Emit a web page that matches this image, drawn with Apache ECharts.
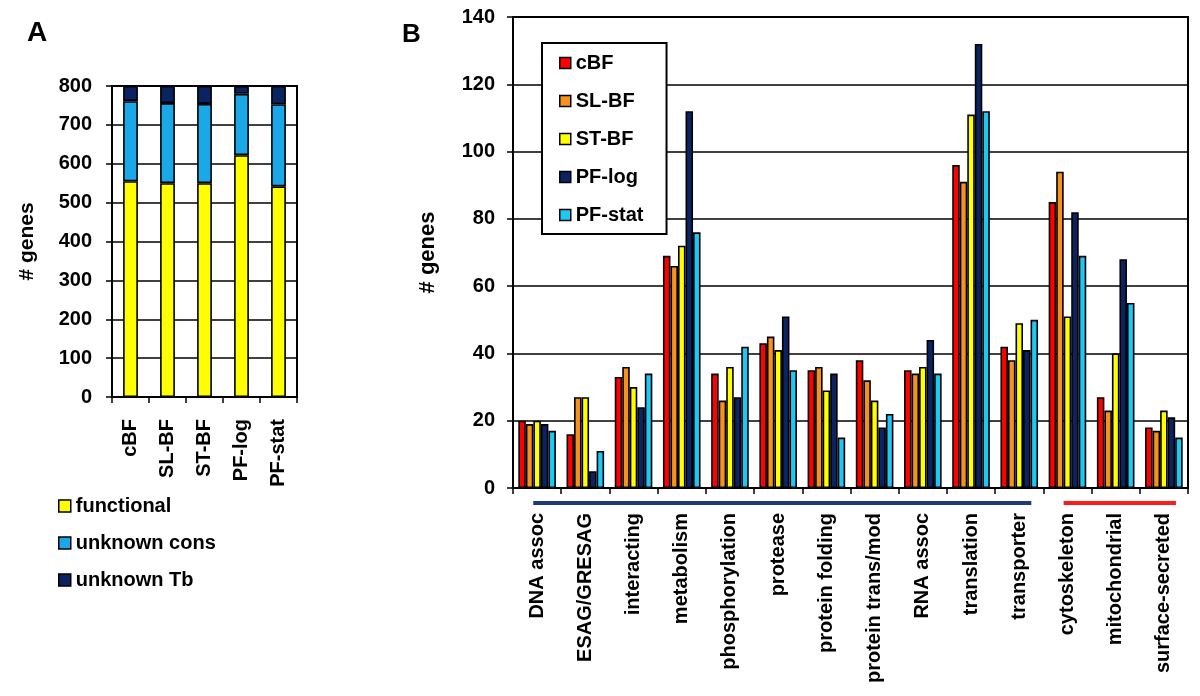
<!DOCTYPE html>
<html>
<head>
<meta charset="utf-8">
<script src="https://cdn.jsdelivr.net/npm/echarts@6/dist/echarts.min.js"></script>
<style>html,body{margin:0;padding:0;background:#fff}#c{width:1200px;height:696px}</style>
</head>
<body>
<div id="c"></div>
<script>
// ---- Panel A data ----
const stagesA = ["cBF", "SL-BF", "ST-BF", "PF-log", "PF-stat"];
const functional = [555, 550, 550, 622, 542];
const unknownCons = [206, 206, 204, 158, 211];
const unknownTb = [39, 44, 46, 20, 47];
const ticksA = { min: 0, max: 800, interval: 100 };

// ---- Panel B data ----
const categoriesB = ["DNA assoc", "ESAG/GRESAG", "interacting", "metabolism", "phosphorylation", "protease", "protein folding", "protein trans/mod", "RNA assoc", "translation", "transporter", "cytoskeleton", "mitochondrial", "surface-secreted"];
const cBF    = [20, 16, 33, 69, 34, 43, 35, 38, 35, 96, 42, 85, 27, 18];
const slBF   = [19, 27, 36, 66, 26, 45, 36, 32, 34, 91, 38, 94, 23, 17];
const stBF   = [20, 27, 30, 72, 36, 41, 29, 26, 36, 111, 49, 51, 40, 23];
const pfLog  = [19, 5, 24, 112, 27, 51, 34, 18, 44, 132, 41, 82, 68, 21];
const pfStat = [17, 11, 34, 76, 42, 35, 15, 22, 34, 112, 50, 69, 55, 15];
const ticksB = { min: 0, max: 140, interval: 20 };
const groupBlue = ["DNA assoc", "transporter"];
const groupRed = ["cytoskeleton", "surface-secreted"];

const FONT = "'Liberation Sans', Arial, sans-serif";
const txt = (size) => ({ fontFamily: FONT, fontWeight: 'bold', fontSize: size, color: '#000' });
const border = { borderColor: '#000', borderWidth: 1.6 };

const chart = echarts.init(document.getElementById('c'), null, { renderer: 'canvas' });

const seriesB = [
  ['cBF', cBF, '#ff0000'],
  ['SL-BF', slBF, '#f7901e'],
  ['ST-BF', stBF, '#ffff00'],
  ['PF-log', pfLog, '#0b2361'],
  ['PF-stat', pfStat, '#1ec8f4']
].map(([n, d, c]) => ({
  name: n, type: 'bar', xAxisIndex: 1, yAxisIndex: 1, data: d,
  barGap: '0%', barCategoryGap: '22%',
  itemStyle: Object.assign({ color: c }, border), emphasis: { disabled: true }
}));

const seriesA = [
  ['functional', functional, '#ffff00'],
  ['unknown cons', unknownCons, '#1ba8e6'],
  ['unknown Tb', unknownTb, '#0b2361']
].map(([n, d, c]) => ({
  name: n, type: 'bar', stack: 'A', xAxisIndex: 0, yAxisIndex: 0, data: d,
  barWidth: '40%',
  itemStyle: Object.assign({ color: c }, border), emphasis: { disabled: true }
}));

const axisLine = { show: true, lineStyle: { color: '#000', width: 2 } };
const split = { show: true, lineStyle: { color: '#000', width: 1.5 } };

chart.setOption({
  animation: false,
  title: [
    { text: 'A', left: 22, top: 14, textStyle: txt(28) },
    { text: 'B', left: 397, top: 17, textStyle: txt(26) }
  ],
  legend: [
    {
      data: ['functional', 'unknown cons', 'unknown Tb'],
      orient: 'vertical', left: 58, top: 496, padding: 0, icon: 'rect',
      itemWidth: 12, itemHeight: 12, itemGap: 17,
      itemStyle: { borderColor: '#000', borderWidth: 1.5 },
      textStyle: Object.assign(txt(20), { lineHeight: 20 }),
      selectedMode: false
    },
    {
      data: ['cBF', 'SL-BF', 'ST-BF', 'PF-log', 'PF-stat'],
      orient: 'vertical', left: 542, top: 43, padding: [10, 23, 9, 17], icon: 'rect',
      borderColor: '#000', borderWidth: 2, backgroundColor: '#fff',
      itemWidth: 11, itemHeight: 11, itemGap: 18,
      itemStyle: { borderColor: '#000', borderWidth: 1.5 },
      textStyle: Object.assign(txt(20), { lineHeight: 18 }),
      selectedMode: false, z: 10
    }
  ],
  grid: [
    { left: 112, right: 1200 - 297, top: 86, bottom: 696 - 397, show: true, borderColor: '#000', borderWidth: 2 },
    { left: 513, right: 12, top: 17, bottom: 696 - 488, show: true, borderColor: '#000', borderWidth: 2 }
  ],
  xAxis: [
    {
      type: 'category', gridIndex: 0, data: stagesA,
      axisLine: axisLine, axisTick: { show: true, length: 6, lineStyle: { color: '#000', width: 1.5 } },
      axisLabel: Object.assign(txt(20), { rotate: 90, interval: 0, margin: 22 })
    },
    {
      type: 'category', gridIndex: 1, data: categoriesB,
      axisLine: axisLine, axisTick: { show: true, length: 6, lineStyle: { color: '#000', width: 1.5 } },
      axisLabel: Object.assign(txt(20), { rotate: 90, interval: 0, margin: 25 })
    }
  ],
  yAxis: [
    {
      type: 'value', gridIndex: 0, min: ticksA.min, max: ticksA.max, interval: ticksA.interval,
      name: '# genes', nameLocation: 'middle', nameGap: 74, nameTextStyle: txt(21),
      axisLine: axisLine, axisTick: { show: true, length: 6, lineStyle: { color: '#000', width: 1.5 } },
      splitLine: split, axisLabel: Object.assign(txt(20), { margin: 20 })
    },
    {
      type: 'value', gridIndex: 1, min: ticksB.min, max: ticksB.max, interval: ticksB.interval,
      name: '# genes', nameLocation: 'middle', nameGap: 74, nameTextStyle: txt(22),
      axisLine: axisLine, axisTick: { show: true, length: 6, lineStyle: { color: '#000', width: 1.5 } },
      splitLine: split, axisLabel: Object.assign(txt(20), { margin: 18 })
    }
  ],
  series: seriesA.concat(seriesB)
});

// group underline bars, positioned through the category axis
function groupLine(range, color) {
  const a = chart.convertToPixel({ xAxisIndex: 1 }, range[0]);
  const b = chart.convertToPixel({ xAxisIndex: 1 }, range[1]);
  const bw = (b - a) / Math.max(1, categoriesB.indexOf(range[1]) - categoriesB.indexOf(range[0]));
  const y0 = chart.convertToPixel({ yAxisIndex: 1 }, 0);
  return {
    type: 'line',
    shape: { x1: a - 0.08 * bw, y1: y0 + 15, x2: b + 0.25 * bw, y2: y0 + 15 },
    style: { stroke: color, lineWidth: 4 }
  };
}
chart.setOption({
  graphic: [groupLine(groupBlue, '#1f3a7a'), groupLine(groupRed, '#ff1a1a')]
});
</script>
</body>
</html>
